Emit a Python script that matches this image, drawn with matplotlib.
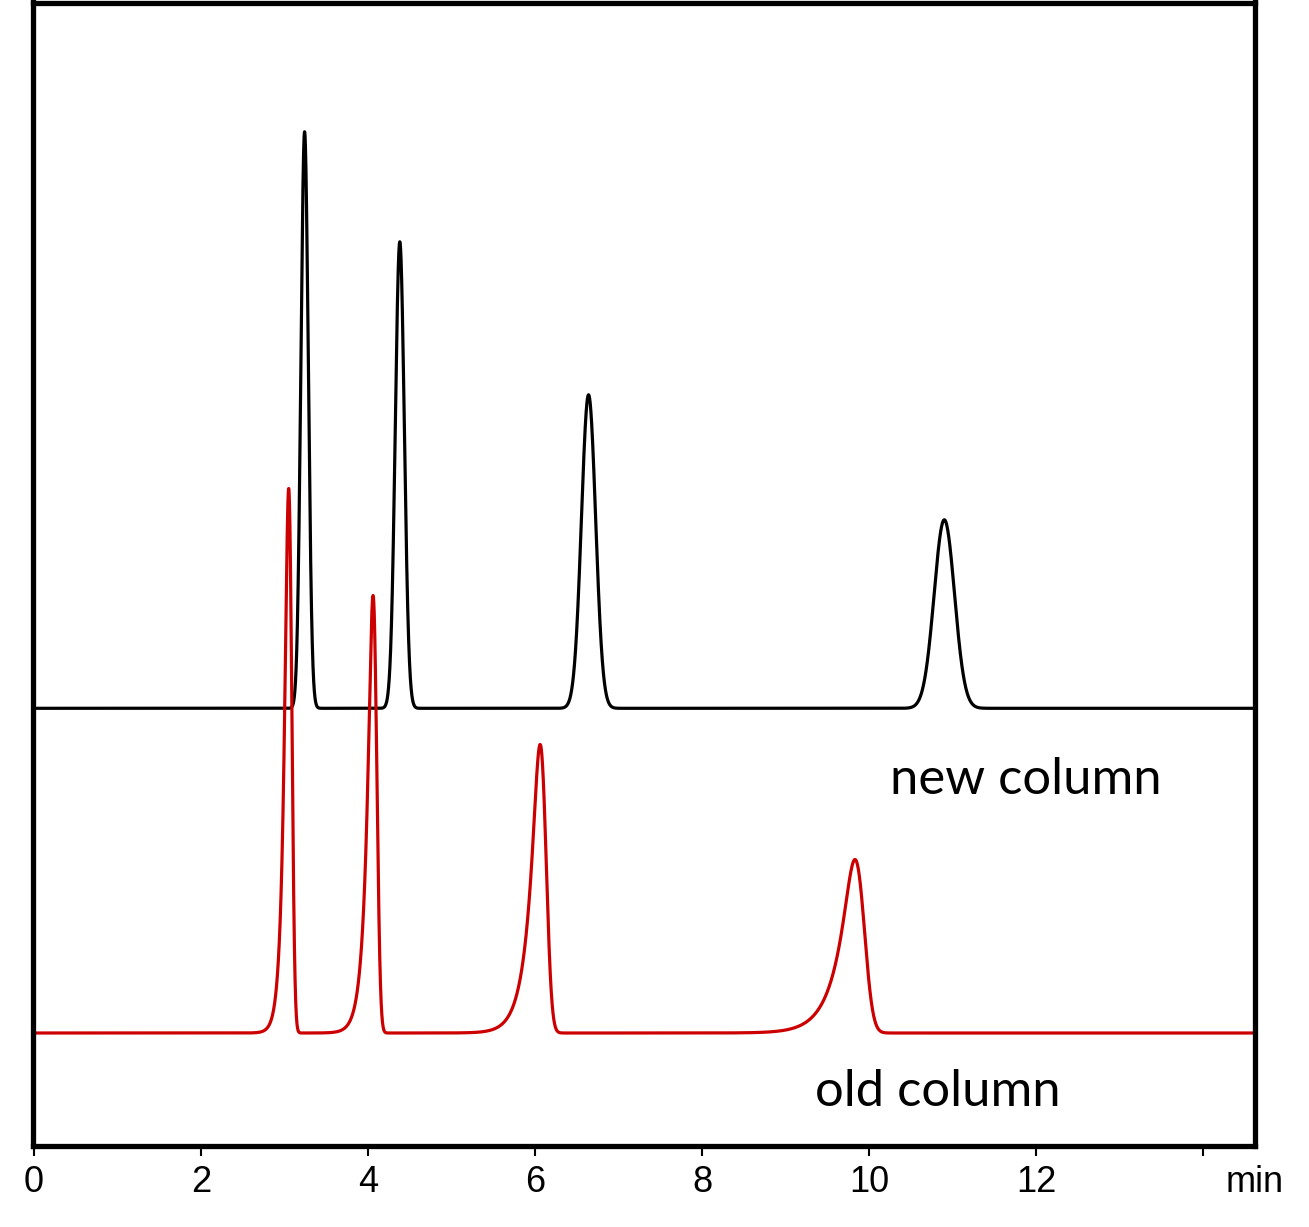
import numpy as np
import matplotlib
matplotlib.use("Agg")
import matplotlib.pyplot as plt

# ---- data (time in min, heights in arbitrary units) ----
new_rt = [3.24, 4.38, 6.64, 10.90]
new_height = [57.65, 46.65, 31.35, 18.85]
new_sigma = [0.044, 0.054, 0.085, 0.122]
new_tau = [0.0, 0.0, 0.0, 0.0]
new_offset = 43.77

old_rt = [3.05, 4.06, 6.06, 9.83]
old_height = [54.45, 43.75, 28.85, 17.35]
old_sigma = [0.030, 0.035, 0.055, 0.085]
old_tau = [0.05, 0.07, 0.12, 0.19]      # fronting (left) tail
old_offset = 11.30

tick_values = [0, 2, 4, 6, 8, 10, 12, 14]
tick_labels = ["0", "2", "4", "6", "8", "10", "12", ""]
x_min, x_max = -0.018, 14.62
y_min, y_max = 0.0, 114.35


def peak_shape(t, rt, h, sigma, tau, fronting=True):
    dt = 0.001
    u = np.arange(-6 * sigma, 6 * sigma + dt, dt)
    g = np.exp(-0.5 * (u / sigma) ** 2)
    if tau > 0:
        k = np.exp(-np.arange(0, 10 * tau, dt) / tau)
        y = np.convolve(g, k, mode="full")
        if fronting:
            y = y[::-1]
    else:
        y = g
    y = y / y.max()
    xs = (np.arange(len(y)) - np.argmax(y)) * dt + rt
    return h * np.interp(t, xs, y, left=0.0, right=0.0)


t = np.linspace(0, 14.58, 14581)
new_trace = np.full_like(t, new_offset)
for rt, h, s, ta in zip(new_rt, new_height, new_sigma, new_tau):
    new_trace += peak_shape(t, rt, h, s, ta)
old_trace = np.full_like(t, old_offset)
for rt, h, s, ta in zip(old_rt, old_height, old_sigma, old_tau):
    old_trace += peak_shape(t, rt, h, s, ta)

fig = plt.figure(figsize=(13.09, 12.27), dpi=100)
ax = fig.add_axes([32.5 / 1309, 81 / 1227, (1255 - 32.5) / 1309, (1146 - 2.5) / 1227])

ax.plot(t, new_trace, color="black", lw=2.3, solid_joinstyle="round")
ax.plot(t, old_trace, color="#cc0000", lw=2.3, solid_joinstyle="round")

ax.set_xlim(x_min, x_max)
ax.set_ylim(y_min, y_max)

ax.set_xticks(tick_values + [x_max])
ax.set_xticklabels(tick_labels + ["min"], fontfamily="Liberation Sans", fontsize=26)
ax.tick_params(axis="x", direction="out", length=7.5, width=1.5, pad=6)
ax.xaxis.get_major_ticks()[-1].tick1line.set_visible(False)
ax.set_yticks([])

for sp in ax.spines.values():
    sp.set_linewidth(3.8)
    sp.set_capstyle("projecting")

ax.text(10.25, 36.6, "new column", fontfamily="Lato", fontsize=36.5, va="center", ha="left")
ax.text(9.35, 5.4, "old column", fontfamily="Lato", fontsize=36.5, va="center", ha="left")

fig.savefig("out.png", dpi=100)
